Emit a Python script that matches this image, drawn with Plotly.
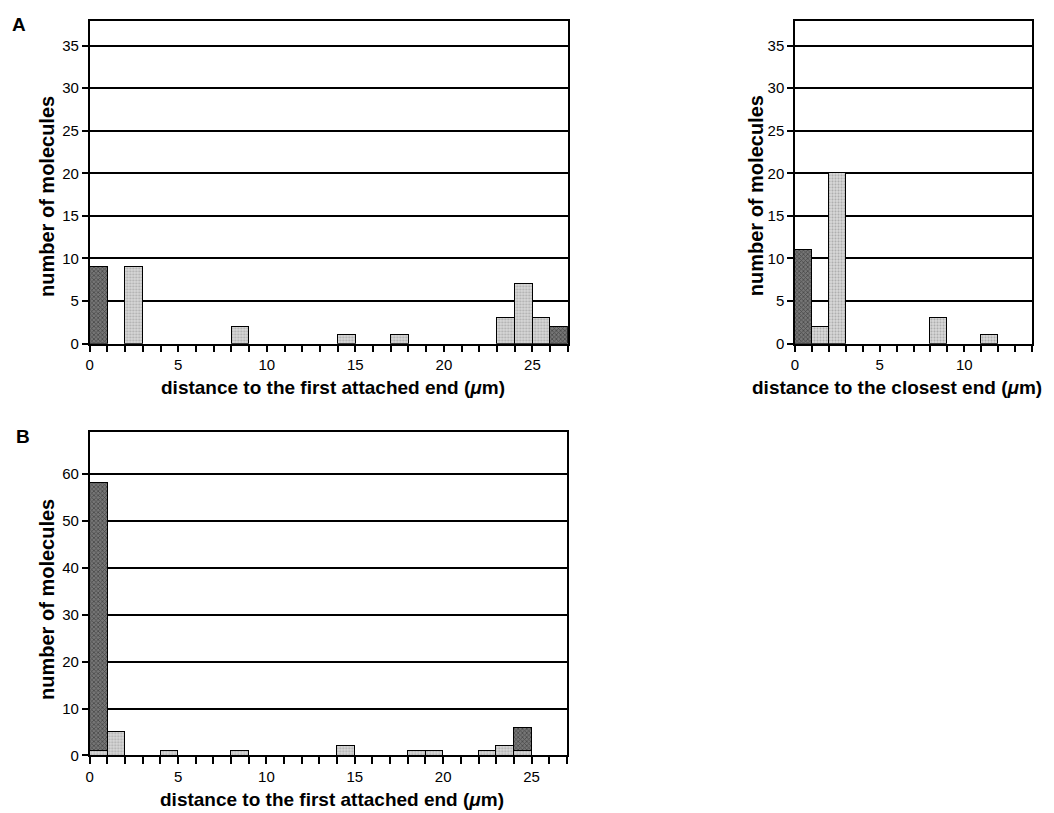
import plotly.graph_objects as go

# ---- data (bin left edges in µm, counts) ----
a1_light_bins = [2, 8, 14, 17, 23, 24, 25]
a1_light_counts = [9, 2, 1, 1, 3, 7, 3]
a1_dark_bins = [0, 26]
a1_dark_counts = [9, 2]

a2_light_bins = [1, 2, 8, 11]
a2_light_counts = [2, 20, 3, 1]
a2_dark_bins = [0]
a2_dark_counts = [11]

b_light_bins = [0, 1, 4, 8, 14, 18, 19, 22, 23, 24]
b_light_counts = [1, 5, 1, 1, 2, 1, 1, 1, 2, 1]
b_dark_bins = [0, 24]
b_dark_counts = [57, 5]

# page body has an 8px margin: build figure in page pixels minus that offset
OFF = 8
SHIFT_X, SHIFT_Y = -1, 3
W, H = 1054 - OFF, 813 - OFF
FONT = "Liberation Sans"

def fx(px):
    return (px - OFF + SHIFT_X) / W

def fy(py):
    return 1 - (py - OFF + SHIFT_Y) / H

light_marker = dict(
    color="#d4d4d4",
    line=dict(color="black", width=1.2),
    pattern=dict(shape=".", fgcolor="#7a7a7a", bgcolor="#dadada", size=3, solidity=0.4),
)
dark_marker = dict(
    color="#555555",
    line=dict(color="black", width=1.2),
    pattern=dict(shape="x", fgcolor="#1a1a1a", bgcolor="#767676", size=3, solidity=0.45),
)

fig = go.Figure()

def add(bins, counts, marker, xa, ya):
    fig.add_trace(go.Bar(x=bins, y=counts, width=1, offset=0, marker=marker,
                         xaxis=xa, yaxis=ya, showlegend=False, hoverinfo="x+y"))

add(a1_dark_bins, a1_dark_counts, dark_marker, "x", "y")
add(a1_light_bins, a1_light_counts, light_marker, "x", "y")
add(a2_dark_bins, a2_dark_counts, dark_marker, "x2", "y2")
add(a2_light_bins, a2_light_counts, light_marker, "x2", "y2")
add(b_light_bins, b_light_counts, light_marker, "x3", "y3")
add(b_dark_bins, b_dark_counts, dark_marker, "x3", "y3")

tickfont = dict(family=FONT, size=15, color="black")

def xaxis(left, right, rng, anchor):
    return dict(
        domain=[fx(left), fx(right)], range=rng, anchor=anchor,
        tickmode="linear", tick0=0, dtick=5,
        ticks="outside", ticklen=7, tickwidth=1.5, tickcolor="black",
        minor=dict(tick0=0, dtick=1, ticks="outside", ticklen=7, tickwidth=1.5,
                   tickcolor="black", showgrid=False),
        showline=True, linecolor="black", linewidth=1.5, mirror=True,
        showgrid=False, zeroline=False,
        tickfont=tickfont, ticklabelstandoff=0,
        fixedrange=True,
    )

def yaxis(top, bottom, rng, anchor, dtick):
    return dict(
        domain=[fy(bottom), fy(top)], range=rng, anchor=anchor,
        tickmode="linear", tick0=0, dtick=dtick,
        ticks="outside", ticklen=6, tickwidth=1.5, tickcolor="black",
        showline=True, linecolor="black", linewidth=1.5, mirror=True,
        showgrid=True, gridcolor="black", gridwidth=1.5, zeroline=False,
        tickfont=tickfont,
        fixedrange=True,
    )

xtitle_font = dict(family=FONT, size=19, color="black", weight="bold")
ytitle_font = dict(family=FONT, size=20, color="black", weight="bold")
letter_font = dict(family=FONT, size=19, color="black", weight="bold")

def label(text, x, y, font, angle=0):
    return dict(text=text, x=fx(x), y=fy(y), xref="paper", yref="paper",
                showarrow=False, xanchor="center", yanchor="middle",
                textangle=angle, font=font)

fig.update_layout(
    width=W, height=H,
    margin=dict(l=0, r=0, t=0, b=0),
    paper_bgcolor="white", plot_bgcolor="white",
    barmode="stack", bargap=0,
    xaxis=xaxis(87, 567, [0, 27], "y"),
    yaxis=yaxis(18, 344, [0, 37.9], "x", 5),
    xaxis2=xaxis(795, 1033, [0, 14], "y2"),
    yaxis2=yaxis(18, 344, [0, 37.9], "x2", 5),
    xaxis3=xaxis(87, 566, [0, 27], "y3"),
    yaxis3=yaxis(433, 760, [0, 68.9], "x3", 10),
    annotations=[
        label("A", 16, 22, letter_font),
        label("B", 20, 438, letter_font),
        label("distance to the first attached end (<i>μ</i>m)", 331, 388, xtitle_font),
        label("distance to the closest end (<i>μ</i>m)", 897, 388, xtitle_font),
        label("distance to the first attached end (<i>μ</i>m)", 330, 804, xtitle_font),
        label("number of molecules", 44, 195, ytitle_font, -90),
        label("number of molecules", 756, 195, ytitle_font, -90),
        label("number of molecules", 44, 602, ytitle_font, -90),
    ],
)

fig.write_html("out.html")
